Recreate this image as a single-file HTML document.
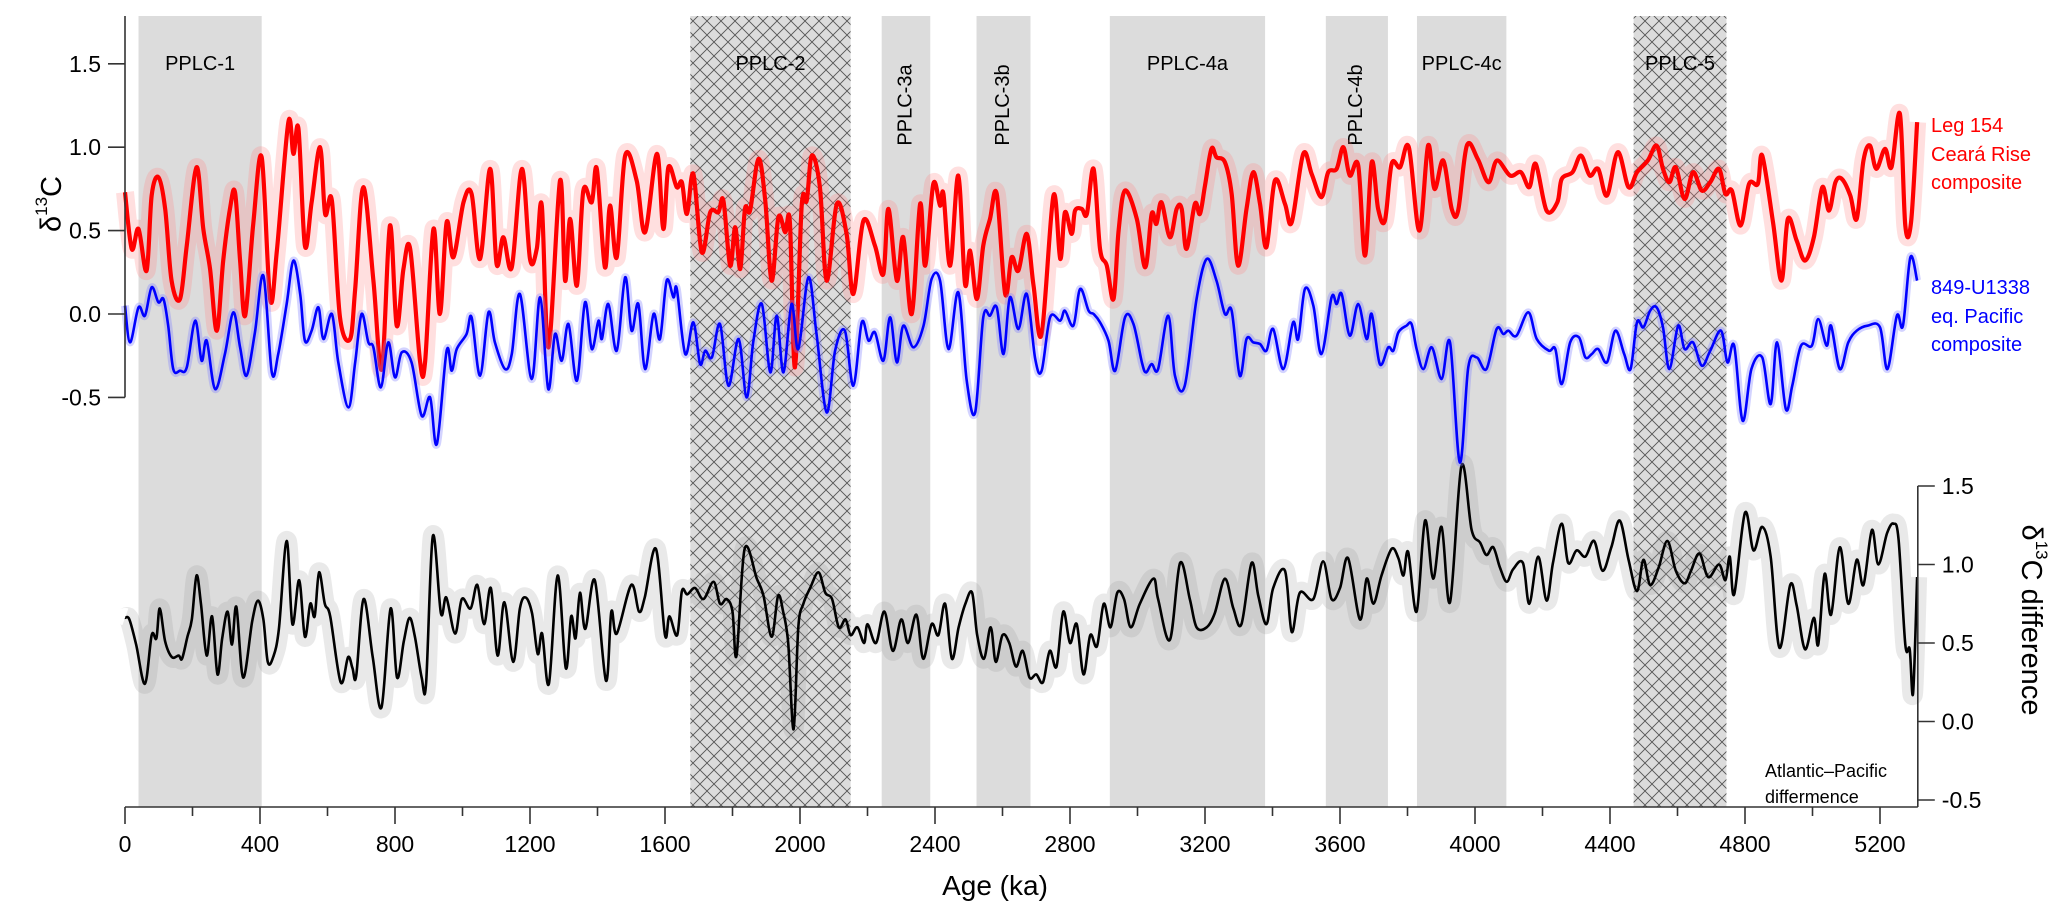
<!DOCTYPE html>
<html><head><meta charset="utf-8"><style>
html,body{margin:0;padding:0;background:#fff;}
svg{display:block;font-family:"Liberation Sans",Arial,sans-serif;}
</style></head><body>
<svg id="chart" width="2067" height="921" viewBox="0 0 2067 921" xmlns="http://www.w3.org/2000/svg">
<defs>
<pattern id="hatch" width="14" height="14" patternUnits="userSpaceOnUse">
<rect width="14" height="14" fill="#dcdcdc"/>
<path d="M0,0 L14,14 M14,0 L0,14" stroke="#555" stroke-width="0.9" fill="none"/>
</pattern>
</defs>
<g id="shading"></g>
<g id="series"></g>
<g id="axes"></g>
<g id="labels">
<text x="53" y="204" font-size="29" text-anchor="middle" transform="rotate(-90 53 204)" dominant-baseline="middle">δ<tspan font-size="17" dy="-10">13</tspan><tspan dy="10">C</tspan></text>
<text x="2030" y="620" font-size="29" text-anchor="middle" transform="rotate(90 2030 620)" dominant-baseline="middle">δ<tspan font-size="17" dy="-10">13</tspan><tspan dy="10">C difference</tspan></text>
<text x="995" y="895" font-size="28" text-anchor="middle">Age (ka)</text>
<g fill="#ff0000" font-size="20">
<text x="1931" y="132">Leg 154</text>
<text x="1931" y="161">Ceará Rise</text>
<text x="1931" y="189">composite</text>
</g>
<g fill="#0000ff" font-size="20">
<text x="1931" y="294">849-U1338</text>
<text x="1931" y="323">eq. Pacific</text>
<text x="1931" y="351">composite</text>
</g>
<g fill="#000" font-size="18">
<text x="1765" y="777">Atlantic–Pacific</text>
<text x="1765" y="803">differmence</text>
</g>
</g>
</svg>
<script>
const intervalNames = ["PPLC-1","PPLC-2","PPLC-3a","PPLC-3b","PPLC-4a","PPLC-4b","PPLC-4c","PPLC-5"];
const intervalStart = [40,1675,2242,2523,2918,3558,3828,4470];
const intervalEnd   = [405,2150,2386,2683,3378,3742,4093,4745];
const intervalHatched = [false,true,false,false,false,false,false,true];
const intervalVertical = [false,false,true,true,false,true,false,false];

const xTicks = [0,200,400,600,800,1000,1200,1400,1600,1800,2000,2200,2400,2600,2800,3000,3200,3400,3600,3800,4000,4200,4400,4600,4800,5000,5200];
const leftTicks = [1.5,1.0,0.5,0.0,-0.5];
const rightTicks = [1.5,1.0,0.5,0.0,-0.5];

const redAge = [0,20,40,64,79,99,119,138,163,183,212,232,252,272,291,311,326,341,356,380,405,430,450,484,499,514,533,553,578,593,613,637,667,682,706,736,761,785,805,825,845,874,889,914,933,953,973,1003,1027,1052,1082,1101,1121,1146,1176,1200,1220,1235,1255,1289,1304,1319,1339,1358,1383,1398,1422,1437,1457,1482,1516,1541,1576,1595,1610,1635,1650,1665,1684,1709,1734,1758,1773,1793,1808,1823,1837,1852,1877,1897,1916,1936,1956,1970,1985,2005,2020,2035,2059,2079,2109,2138,2158,2188,2222,2247,2262,2287,2306,2331,2356,2371,2395,2415,2425,2445,2469,2489,2504,2524,2543,2563,2583,2608,2627,2647,2672,2692,2716,2751,2771,2785,2805,2815,2835,2850,2870,2889,2909,2929,2944,2963,2998,3023,3042,3056,3071,3096,3116,3131,3145,3170,3185,3200,3219,3234,3259,3279,3298,3323,3343,3363,3382,3407,3437,3457,3491,3516,3545,3565,3590,3610,3629,3654,3674,3694,3713,3733,3753,3778,3804,3835,3861,3880,3906,3931,3950,3976,4008,4040,4065,4104,4136,4161,4180,4212,4244,4257,4289,4314,4340,4365,4391,4423,4455,4480,4512,4538,4557,4576,4595,4621,4646,4672,4697,4723,4742,4761,4787,4812,4838,4851,4883,4908,4927,4953,4978,5004,5029,5049,5068,5087,5112,5131,5151,5170,5189,5215,5234,5259,5275,5292,5310];
const redVal = [0.73,0.39,0.51,0.26,0.71,0.82,0.63,0.2,0.09,0.41,0.88,0.51,0.27,-0.1,0.32,0.63,0.73,0.32,-0.01,0.54,0.94,0.09,0.38,1.15,0.96,1.11,0.41,0.67,1.0,0.6,0.68,-0.02,-0.15,0.15,0.76,0.2,-0.33,0.53,-0.07,0.27,0.39,-0.28,-0.29,0.51,0,0.55,0.34,0.67,0.72,0.33,0.87,0.3,0.46,0.28,0.87,0.33,0.39,0.65,-0.2,0.8,0.2,0.57,0.17,0.74,0.67,0.87,0.28,0.65,0.34,0.95,0.8,0.49,0.96,0.51,0.88,0.76,0.79,0.6,0.84,0.37,0.61,0.61,0.68,0.29,0.52,0.27,0.63,0.62,0.93,0.68,0.2,0.58,0.49,0.55,-0.32,0.65,0.68,0.95,0.76,0.2,0.66,0.48,0.12,0.56,0.41,0.24,0.63,0.2,0.46,0,0.66,0.29,0.78,0.65,0.72,0.29,0.83,0.18,0.38,0.09,0.41,0.57,0.72,0.12,0.34,0.26,0.48,0.17,-0.12,0.71,0.33,0.61,0.48,0.62,0.63,0.6,0.87,0.39,0.29,0.09,0.5,0.74,0.57,0.28,0.6,0.54,0.67,0.46,0.63,0.63,0.39,0.66,0.6,0.77,0.99,0.94,0.91,0.72,0.29,0.63,0.85,0.66,0.4,0.8,0.66,0.55,0.96,0.84,0.7,0.85,0.87,1.0,0.83,0.89,0.35,0.91,0.63,0.56,0.9,0.88,1.0,0.5,1.01,0.75,0.92,0.63,0.62,1.01,0.93,0.79,0.92,0.83,0.85,0.76,0.9,0.62,0.67,0.81,0.85,0.95,0.83,0.87,0.71,0.97,0.76,0.85,0.92,1.01,0.87,0.79,0.88,0.69,0.85,0.74,0.79,0.87,0.72,0.74,0.53,0.78,0.78,0.95,0.55,0.2,0.57,0.44,0.32,0.46,0.76,0.62,0.79,0.81,0.71,0.57,0.92,1.01,0.87,0.99,0.88,1.2,0.53,0.55,1.15];

const blueAge = [0,15,40,59,79,99,114,128,143,163,183,208,227,242,267,296,321,341,360,385,410,435,454,479,499,519,533,553,573,588,613,632,662,682,701,721,736,758,780,800,820,849,879,904,924,953,968,983,1012,1027,1052,1077,1096,1126,1146,1170,1205,1230,1254,1274,1294,1314,1339,1363,1383,1403,1413,1432,1457,1482,1501,1521,1541,1566,1585,1605,1625,1635,1660,1684,1704,1719,1739,1763,1788,1818,1842,1862,1887,1912,1931,1951,1975,1995,2025,2049,2079,2104,2133,2158,2183,2203,2222,2247,2267,2287,2306,2336,2366,2390,2415,2440,2469,2494,2519,2543,2563,2583,2603,2622,2647,2672,2697,2716,2741,2771,2785,2810,2830,2855,2870,2889,2914,2934,2963,2988,3013,3025,3042,3061,3091,3111,3140,3175,3205,3234,3259,3279,3303,3323,3343,3363,3382,3402,3432,3461,3476,3496,3521,3545,3575,3590,3605,3629,3654,3679,3694,3718,3743,3758,3773,3797,3812,3827,3847,3872,3901,3926,3955,3980,4005,4034,4064,4084,4099,4123,4158,4183,4219,4238,4257,4282,4308,4327,4346,4365,4391,4416,4442,4461,4480,4499,4519,4538,4557,4576,4602,4621,4646,4672,4697,4729,4748,4768,4793,4819,4851,4876,4895,4921,4940,4966,4998,5017,5042,5055,5081,5106,5131,5163,5200,5222,5250,5268,5290,5310];
const blueVal = [0.05,-0.17,0.04,-0.01,0.16,0.07,0.09,-0.07,-0.33,-0.34,-0.32,-0.04,-0.28,-0.16,-0.45,-0.24,0.01,-0.2,-0.37,-0.11,0.23,-0.35,-0.24,0.06,0.32,0.12,-0.16,-0.1,0.04,-0.15,0,-0.29,-0.56,-0.29,0,-0.17,-0.2,-0.44,-0.17,-0.38,-0.23,-0.29,-0.61,-0.5,-0.78,-0.22,-0.34,-0.21,-0.12,-0.02,-0.37,0.01,-0.17,-0.33,-0.24,0.12,-0.39,0.1,-0.45,-0.12,-0.28,-0.06,-0.4,0.07,-0.21,-0.04,-0.15,0.06,-0.22,0.22,-0.1,0.06,-0.33,0,-0.15,0.2,0.1,0.15,-0.24,-0.05,-0.3,-0.22,-0.26,-0.06,-0.43,-0.15,-0.5,-0.16,0.06,-0.35,-0.01,-0.35,0.06,-0.21,0.22,-0.12,-0.59,-0.22,-0.1,-0.43,-0.05,-0.16,-0.11,-0.28,-0.02,-0.29,-0.07,-0.2,-0.07,0.21,0.2,-0.21,0.13,-0.4,-0.59,-0.02,-0.01,0.04,-0.24,0.1,-0.09,0.12,-0.27,-0.34,-0.02,-0.04,0.02,-0.07,0.15,0.02,0,-0.05,-0.16,-0.34,-0.02,-0.06,-0.29,-0.35,-0.3,-0.33,-0.01,-0.37,-0.43,0.09,0.33,0.2,0,0.02,-0.37,-0.15,-0.17,-0.18,-0.22,-0.09,-0.33,-0.05,-0.15,0.15,0.05,-0.24,0.1,0.06,0.12,-0.13,0.06,-0.15,0,-0.3,-0.2,-0.22,-0.11,-0.07,-0.06,-0.21,-0.33,-0.2,-0.39,-0.17,-0.89,-0.32,-0.26,-0.33,-0.09,-0.12,-0.1,-0.13,0.01,-0.15,-0.22,-0.21,-0.42,-0.17,-0.14,-0.26,-0.24,-0.21,-0.29,-0.1,-0.24,-0.33,-0.05,-0.08,0.02,0.04,-0.08,-0.33,-0.07,-0.21,-0.17,-0.31,-0.22,-0.1,-0.29,-0.19,-0.64,-0.33,-0.26,-0.54,-0.17,-0.57,-0.43,-0.19,-0.19,-0.03,-0.19,-0.07,-0.33,-0.17,-0.1,-0.07,-0.08,-0.33,-0.01,-0.07,0.34,0.2];

const diffAge = [0,13,33,59,79,93,103,119,139,159,169,185,198,212,225,242,258,274,288,304,317,330,350,377,394,410,423,439,456,479,496,516,533,549,562,575,592,608,639,661,674,685,707,734,760,787,806,826,843,859,879,892,912,936,952,978,998,1024,1044,1064,1084,1104,1124,1150,1170,1187,1206,1223,1236,1256,1282,1306,1322,1335,1348,1364,1392,1425,1441,1457,1500,1523,1540,1573,1600,1613,1636,1650,1666,1689,1714,1744,1763,1783,1800,1812,1836,1872,1892,1916,1935,1950,1965,1981,1995,2010,2030,2055,2075,2095,2115,2135,2150,2170,2190,2200,2225,2250,2275,2300,2320,2345,2365,2390,2410,2430,2450,2470,2490,2510,2525,2545,2565,2580,2600,2620,2640,2660,2680,2700,2720,2740,2760,2780,2800,2820,2840,2860,2880,2900,2920,2940,2960,2980,3007,3047,3061,3096,3126,3155,3175,3205,3229,3259,3284,3308,3338,3358,3382,3402,3437,3457,3481,3521,3550,3575,3600,3624,3659,3679,3699,3723,3753,3773,3788,3802,3827,3852,3876,3901,3926,3960,3990,4015,4034,4054,4074,4094,4113,4142,4161,4187,4212,4231,4257,4276,4301,4327,4353,4378,4404,4429,4455,4480,4499,4519,4544,4570,4595,4621,4640,4665,4691,4723,4742,4755,4768,4800,4825,4851,4876,4902,4934,4953,4978,5004,5017,5036,5055,5081,5106,5131,5151,5176,5195,5221,5240,5255,5275,5288,5298,5310];
const diffVal = [0.66,0.65,0.49,0.24,0.55,0.53,0.72,0.51,0.41,0.42,0.4,0.54,0.65,0.93,0.75,0.42,0.67,0.3,0.53,0.7,0.49,0.73,0.28,0.64,0.77,0.65,0.38,0.41,0.59,1.15,0.62,0.9,0.54,0.75,0.67,0.95,0.75,0.67,0.25,0.41,0.34,0.29,0.78,0.41,0.09,0.72,0.28,0.51,0.66,0.54,0.28,0.24,1.18,0.69,0.79,0.56,0.78,0.72,0.87,0.62,0.85,0.42,0.76,0.38,0.72,0.79,0.69,0.43,0.56,0.24,0.93,0.34,0.67,0.53,0.82,0.59,0.9,0.26,0.7,0.56,0.87,0.7,0.79,1.1,0.55,0.67,0.55,0.83,0.81,0.85,0.78,0.89,0.75,0.78,0.7,0.42,1.1,0.91,0.8,0.54,0.8,0.7,0.5,-0.05,0.6,0.75,0.85,0.95,0.82,0.78,0.6,0.65,0.55,0.6,0.5,0.62,0.5,0.7,0.45,0.65,0.5,0.68,0.4,0.62,0.55,0.75,0.4,0.6,0.75,0.82,0.55,0.4,0.6,0.38,0.55,0.5,0.35,0.45,0.28,0.3,0.25,0.45,0.35,0.7,0.5,0.62,0.3,0.55,0.48,0.75,0.6,0.82,0.78,0.6,0.75,0.91,0.78,0.52,1.01,0.78,0.6,0.6,0.69,0.91,0.72,0.62,1.01,0.8,0.62,0.85,0.96,0.57,0.82,0.78,1.02,0.78,0.85,1.04,0.65,0.91,0.75,0.93,1.1,1.04,0.93,1.08,0.7,1.28,0.91,1.24,0.76,1.63,1.22,1.14,1.06,1.11,0.98,0.89,0.97,1.01,0.75,1.05,0.77,1.01,1.26,1.01,1.09,1.05,1.15,0.96,1.11,1.28,1.03,0.83,1.03,0.87,0.98,1.15,0.96,0.88,0.96,1.07,0.92,1.0,0.9,1.05,0.81,1.33,1.09,1.24,1.05,0.47,0.87,0.74,0.46,0.66,0.49,0.94,0.68,1.11,0.75,1.03,0.87,1.22,1.0,1.2,1.26,1.16,0.49,0.46,0.18,0.92];

const NS = "http://www.w3.org/2000/svg";
const X0 = 125, XPK = 0.3375, XMAX = 5312;
function xS(ka){ return X0 + ka*XPK; }
function yL(v){ return 314 - v*166.8; }
function yR(v){ return 721.5 - v*157; }
function mk(tag, attrs, parent){
  const e = document.createElementNS(NS, tag);
  for (const k in attrs) e.setAttribute(k, attrs[k]);
  parent.appendChild(e);
  return e;
}
function smoothPath(xs, ys){
  const n = xs.length;
  let d = "M" + xs[0].toFixed(2) + "," + ys[0].toFixed(2);
  for (let i=0;i<n-1;i++){
    const x0 = xs[Math.max(0,i-1)], y0 = ys[Math.max(0,i-1)];
    const x1 = xs[i], y1 = ys[i], x2 = xs[i+1], y2 = ys[i+1];
    const x3 = xs[Math.min(n-1,i+2)], y3 = ys[Math.min(n-1,i+2)];
    const c1x = x1 + (x2-x0)/6, c1y = y1 + (y2-y0)/6;
    const c2x = x2 - (x3-x1)/6, c2y = y2 - (y3-y1)/6;
    d += " C" + c1x.toFixed(2)+","+c1y.toFixed(2)+" "+c2x.toFixed(2)+","+c2y.toFixed(2)+" "+x2.toFixed(2)+","+y2.toFixed(2);
  }
  return d;
}

const gS = document.getElementById("shading");
for (let i=0;i<intervalNames.length;i++){
  const x1 = xS(intervalStart[i]), x2 = xS(intervalEnd[i]);
  const r = mk("rect", {x:x1, y:16, width:x2-x1, height:807-16, fill: intervalHatched[i] ? "url(#hatch)" : "#dcdcdc"}, gS);
  
  
  const cx = (x1+x2)/2;
  let t;
  if (intervalVertical[i]) {
    t = mk("text", {x:cx, y:105, "font-size":20, "text-anchor":"middle", "dominant-baseline":"middle", transform:"rotate(-90 "+cx+" 105)"}, gS);
  } else {
    t = mk("text", {x:cx, y:70, "font-size":20, "text-anchor":"middle"}, gS);
  }
  t.textContent = intervalNames[i];
  
  
}

const gD = document.getElementById("series");
function drawSeries(ages, vals, yf, name, bandColor, bandW, bandOp, lineColor, lineW){
  const xs = ages.map(xS), ys = vals.map(yf);
  const d = smoothPath(xs, ys);
  const b = mk("path", {d:d, fill:"none", stroke:bandColor, "stroke-width":bandW, "stroke-opacity":bandOp, "stroke-linejoin":"round"}, gD);
  
  
  const l = mk("path", {d:d, fill:"none", stroke:lineColor, "stroke-width":lineW, "stroke-linejoin":"round"}, gD);
  
  
}
drawSeries(diffAge, diffVal, yR, "atlantic-pacific-difference", "#999", 20, 0.22, "#000", 2.6);
drawSeries(redAge, redVal, yL, "ceara-rise", "#ff8080", 18, 0.25, "#ff0000", 4.2);
drawSeries(blueAge, blueVal, yL, "pacific", "#8080ff", 8, 0.35, "#0000ff", 2.6);

const gA = document.getElementById("axes");
const st = {stroke:"#333", "stroke-width":1.6};
let e = mk("line", Object.assign({x1:X0, y1:807, x2:xS(XMAX), y2:807}, st), gA);


for (const t of xTicks){
  const x = xS(t), major = (t % 400 === 0);
  const tk = mk("line", Object.assign({x1:x, y1:807, x2:x, y2:807 + (major ? 17 : 9)}, st), gA);
  
  
  if (major){
    const lb = mk("text", {x:x, y:852, "font-size":23, "text-anchor":"middle"}, gA);
    lb.textContent = String(t);
    
    
  }
}
e = mk("line", Object.assign({x1:X0, y1:16, x2:X0, y2:yL(-0.5)}, st), gA);


for (const t of leftTicks){
  const y = yL(t);
  const tk = mk("line", Object.assign({x1:X0-17, y1:y, x2:X0, y2:y}, st), gA);
  
  
  const lb = mk("text", {x:X0-24, y:y+8, "font-size":23, "text-anchor":"end"}, gA);
  lb.textContent = t.toFixed(1);
  
  
}
const XR = xS(XMAX);
e = mk("line", Object.assign({x1:XR, y1:yR(1.5), x2:XR, y2:807}, st), gA);


for (const t of rightTicks){
  const y = yR(t);
  const tk = mk("line", Object.assign({x1:XR, y1:y, x2:XR+17, y2:y}, st), gA);
  
  
  const lb = mk("text", {x:XR+24, y:y+8, "font-size":23, "text-anchor":"start"}, gA);
  lb.textContent = t.toFixed(1);
  
  
}
</script>
</body></html>
